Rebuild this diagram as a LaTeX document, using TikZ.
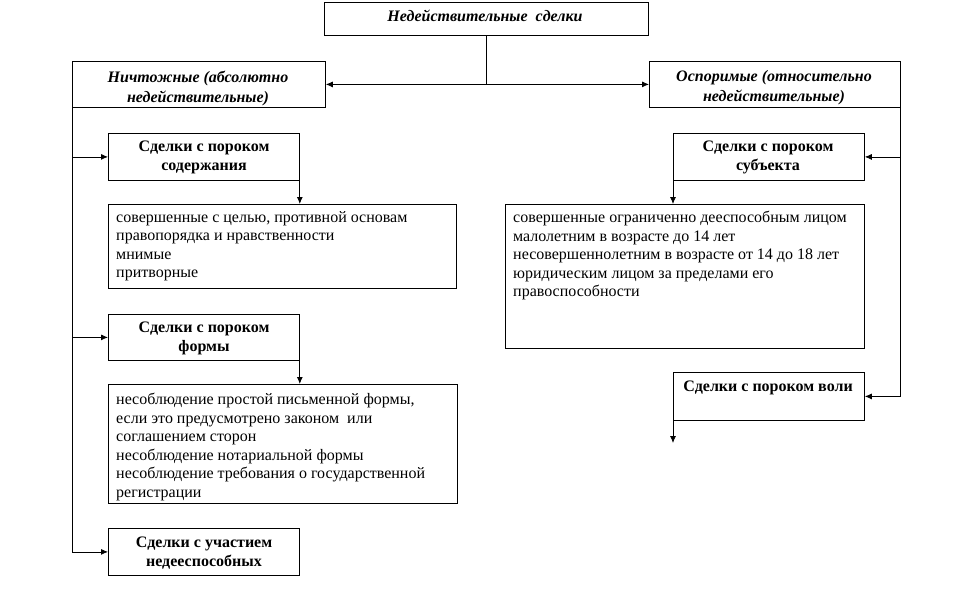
\documentclass[tikz,border=0pt]{standalone}
\usepackage{fontspec}
\setmainfont{Liberation Serif}
\usetikzlibrary{arrows.meta}
\begin{document}
\begin{tikzpicture}[x=1pt,y=-1pt,
  box/.style={draw, line width=0.8pt, anchor=north west, inner sep=0pt},
  hd/.style={font=\fontsize{16}{20}\selectfont\bfseries\itshape, align=center, inner sep=0pt},
  kd/.style={font=\fontsize{16}{19}\selectfont\bfseries, align=center, inner sep=0pt},
  tx/.style={font=\fontsize{16}{18.5}\selectfont, align=left, anchor=north west, inner sep=0pt},
  ln/.style={line width=0.8pt},
  arr/.style={line width=0.8pt, -{Latex[length=7pt,width=6pt]}}]
\useasboundingbox (0,0) rectangle (961,602);
% boxes
\node[box, minimum width=324, minimum height=33] (top) at (324,2) {};
\node[box, minimum width=253, minimum height=46] (left) at (72,61) {};
\node[box, minimum width=251, minimum height=46] (right) at (649,61) {};
\node[box, minimum width=191, minimum height=47] (k1) at (108,133) {};
\node[box, minimum width=348, minimum height=84] (t1) at (108,204) {};
\node[box, minimum width=191, minimum height=46] (k2) at (108,314) {};
\node[box, minimum width=349, minimum height=119] (t2) at (108,384) {};
\node[box, minimum width=191, minimum height=47] (k3) at (108,528) {};
\node[box, minimum width=191, minimum height=47] (s) at (673,133) {};
\node[box, minimum width=359, minimum height=144] (ts) at (505,204) {};
\node[box, minimum width=191, minimum height=48] (v) at (673,372) {};
% texts
\node[hd] (toptx) at (485,16) {Недействительные\ \ сделки};
\node[hd] (lefttx) at (198,88) {Ничтожные (абсолютно\\недействительные)};
\node[hd] (righttx) at (774,88) {Оспоримые (относительно\\недействительные)};
\node[kd] (k1tx) at (204,157) {Сделки с пороком\\содержания};
\node[kd] (k2tx) at (204,338) {Сделки с пороком\\формы};
\node[kd] (k3tx) at (204,553) {Сделки с участием\\недееспособных};
\node[kd] (stx) at (768,157) {Сделки с пороком\\субъекта};
\node[kd] (vtx) at (768,388) {Сделки с пороком воли};
\node[tx] (t1tx) at (116,211) {совершенные с целью, противной основам\\правопорядка и нравственности\\мнимые\\притворные};
\node[tx] (t2tx) at (116,393) {несоблюдение простой письменной формы,\\если это предусмотрено законом\ \ или\\соглашением сторон\\несоблюдение нотариальной формы\\несоблюдение требования о государственной\\регистрации};
\node[tx] (tstx) at (513,211) {совершенные ограниченно дееспособным лицом\\малолетним в возрасте до 14 лет\\несовершеннолетним в возрасте от 14 до 18 лет\\юридическим лицом за пределами его\\правоспособности};
% connectors
\coordinate (j) at (top.south |- left.east);
\draw[ln] (top.south) -- (j);
\draw[arr] (j) -- (left.east);
\draw[arr] (j) -- (right.west);
\draw[ln] (left.south west) -- (left.south west |- k2.west);
\draw[arr] (left.south west |- k1.west) -- (k1.west);
\draw[arr] (left.south west |- k2.west) -- (k2.west);
\draw[arr] (left.south west |- k2.west) |- (k3.west);
\draw[arr] (k1.south east) -- (k1.south east |- t1.north);
\draw[arr] (k2.south east) -- (k2.south east |- t2.north);
\draw[arr] (right.south east) |- (v.east);
\draw[arr] (right.south east |- s.east) -- (s.east);
\draw[arr] (s.south west) -- (s.south west |- ts.north);
\coordinate (vend) at (673,443);
\draw[arr] (v.south west) -- (vend);
\end{tikzpicture}
\end{document}
